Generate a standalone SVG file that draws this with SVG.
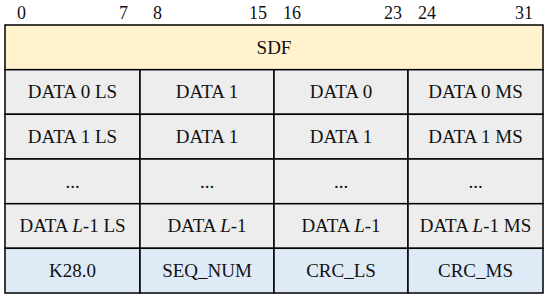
<svg xmlns="http://www.w3.org/2000/svg" width="550" height="301" viewBox="0 0 550 301">
<style>
.c{stroke:#000;stroke-width:1.5}
.y{fill:#FFF2CC}
.g{fill:#EDEDED}
.b{fill:#DEEBF7}
text{font-family:"Liberation Serif","Times New Roman",serif;font-size:19px;fill:#111;text-anchor:middle}
.n{font-size:18px}
.s{text-anchor:start}
.e{text-anchor:end}
.it{font-style:italic}
</style>
<rect width="550" height="301" fill="#fff"/>
<g id="bits">
<text class="n s" x="17" y="19">0</text>
<text class="n e" x="128" y="19">7</text>
<text class="n s" x="153" y="19">8</text>
<text class="n e" x="267" y="19">15</text>
<text class="n s" x="283" y="19">16</text>
<text class="n e" x="402" y="19">23</text>
<text class="n s" x="418" y="19">24</text>
<text class="n e" x="533" y="19">31</text>
</g>
<g id="sdf"><rect class="c y" x="5" y="25" width="538" height="44.7"/><text x="274" y="53.6">SDF</text></g>
<g id="r1c1"><rect class="c g" x="5" y="69.7" width="135" height="44.6"/><text x="72.5" y="98.3">DATA 0 LS</text></g>
<g id="r1c2"><rect class="c g" x="140" y="69.7" width="134" height="44.6"/><text x="207" y="98.3">DATA 1</text></g>
<g id="r1c3"><rect class="c g" x="274" y="69.7" width="134" height="44.6"/><text x="341" y="98.3">DATA 0</text></g>
<g id="r1c4"><rect class="c g" x="408" y="69.7" width="135" height="44.6"/><text x="475.5" y="98.3">DATA 0 MS</text></g>
<g id="r2c1"><rect class="c g" x="5" y="114.3" width="135" height="44.7"/><text x="72.5" y="143">DATA 1 LS</text></g>
<g id="r2c2"><rect class="c g" x="140" y="114.3" width="134" height="44.7"/><text x="207" y="143">DATA 1</text></g>
<g id="r2c3"><rect class="c g" x="274" y="114.3" width="134" height="44.7"/><text x="341" y="143">DATA 1</text></g>
<g id="r2c4"><rect class="c g" x="408" y="114.3" width="135" height="44.7"/><text x="475.5" y="143">DATA 1 MS</text></g>
<g id="r3c1"><rect class="c g" x="5" y="159" width="135" height="44.7"/><text x="72.5" y="187.6">...</text></g>
<g id="r3c2"><rect class="c g" x="140" y="159" width="134" height="44.7"/><text x="207" y="187.6">...</text></g>
<g id="r3c3"><rect class="c g" x="274" y="159" width="134" height="44.7"/><text x="341" y="187.6">...</text></g>
<g id="r3c4"><rect class="c g" x="408" y="159" width="135" height="44.7"/><text x="475.5" y="187.6">...</text></g>
<g id="r4c1"><rect class="c g" x="5" y="203.7" width="135" height="44.6"/><text x="72.5" y="232.3">DATA <tspan class="it">L</tspan>-1 LS</text></g>
<g id="r4c2"><rect class="c g" x="140" y="203.7" width="134" height="44.6"/><text x="207" y="232.3">DATA <tspan class="it">L</tspan>-1</text></g>
<g id="r4c3"><rect class="c g" x="274" y="203.7" width="134" height="44.6"/><text x="341" y="232.3">DATA <tspan class="it">L</tspan>-1</text></g>
<g id="r4c4"><rect class="c g" x="408" y="203.7" width="135" height="44.6"/><text x="475.5" y="232.3">DATA <tspan class="it">L</tspan>-1 MS</text></g>
<g id="r5c1"><rect class="c b" x="5" y="248.3" width="135" height="44.7"/><text x="72.5" y="277">K28.0</text></g>
<g id="r5c2"><rect class="c b" x="140" y="248.3" width="134" height="44.7"/><text x="207" y="277">SEQ_NUM</text></g>
<g id="r5c3"><rect class="c b" x="274" y="248.3" width="134" height="44.7"/><text x="341" y="277">CRC_LS</text></g>
<g id="r5c4"><rect class="c b" x="408" y="248.3" width="135" height="44.7"/><text x="475.5" y="277">CRC_MS</text></g>
</svg>
